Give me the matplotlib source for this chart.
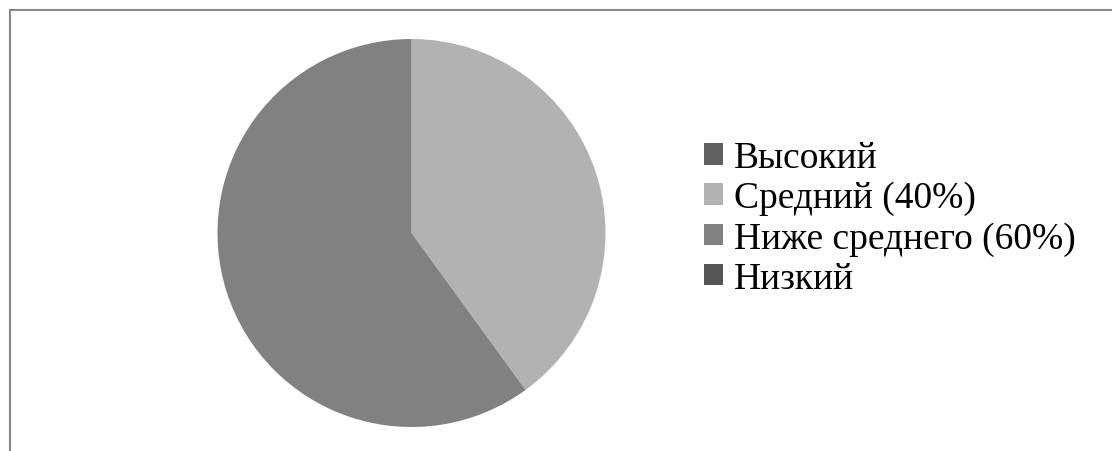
import matplotlib
matplotlib.use('Agg')
from matplotlib import pyplot as plt
from matplotlib.patches import Rectangle

labels = ['Высокий', 'Средний (40%)', 'Ниже среднего (60%)', 'Низкий']
values = [0, 40, 60, 0]
colors = ['#606060', '#b2b2b2', '#818181', '#555555']

plt.rcParams['font.family'] = ['Liberation Serif', 'DejaVu Serif']

fig = plt.figure(figsize=(11.12, 4.52), dpi=100)

# chart frame (cut off at right and bottom in the original)
fig.patches.append(Rectangle((10 / 1112, -0.1), 1.2, (452 - 11) / 452 + 0.1,
                             transform=fig.transFigure, fill=False,
                             edgecolor='#888888', linewidth=1.5))

ax = fig.add_axes([217 / 1112, 24 / 452, 389 / 1112, 388 / 452])
wedges, _ = ax.pie(values, colors=colors, startangle=90, counterclock=False,
                   radius=1, wedgeprops=dict(linewidth=0))
ax.set_xlim(-1, 1)
ax.set_ylim(-1, 1)
ax.set_aspect('equal')

fig.legend(wedges, labels, loc='center left', bbox_to_anchor=(704 / 1112, 0.515),
           frameon=False, fontsize=27, borderpad=0, borderaxespad=0,
           handlelength=0.5, handleheight=0.5, handletextpad=0.3,
           labelspacing=0.15)

fig.savefig('out.png', dpi=100)
